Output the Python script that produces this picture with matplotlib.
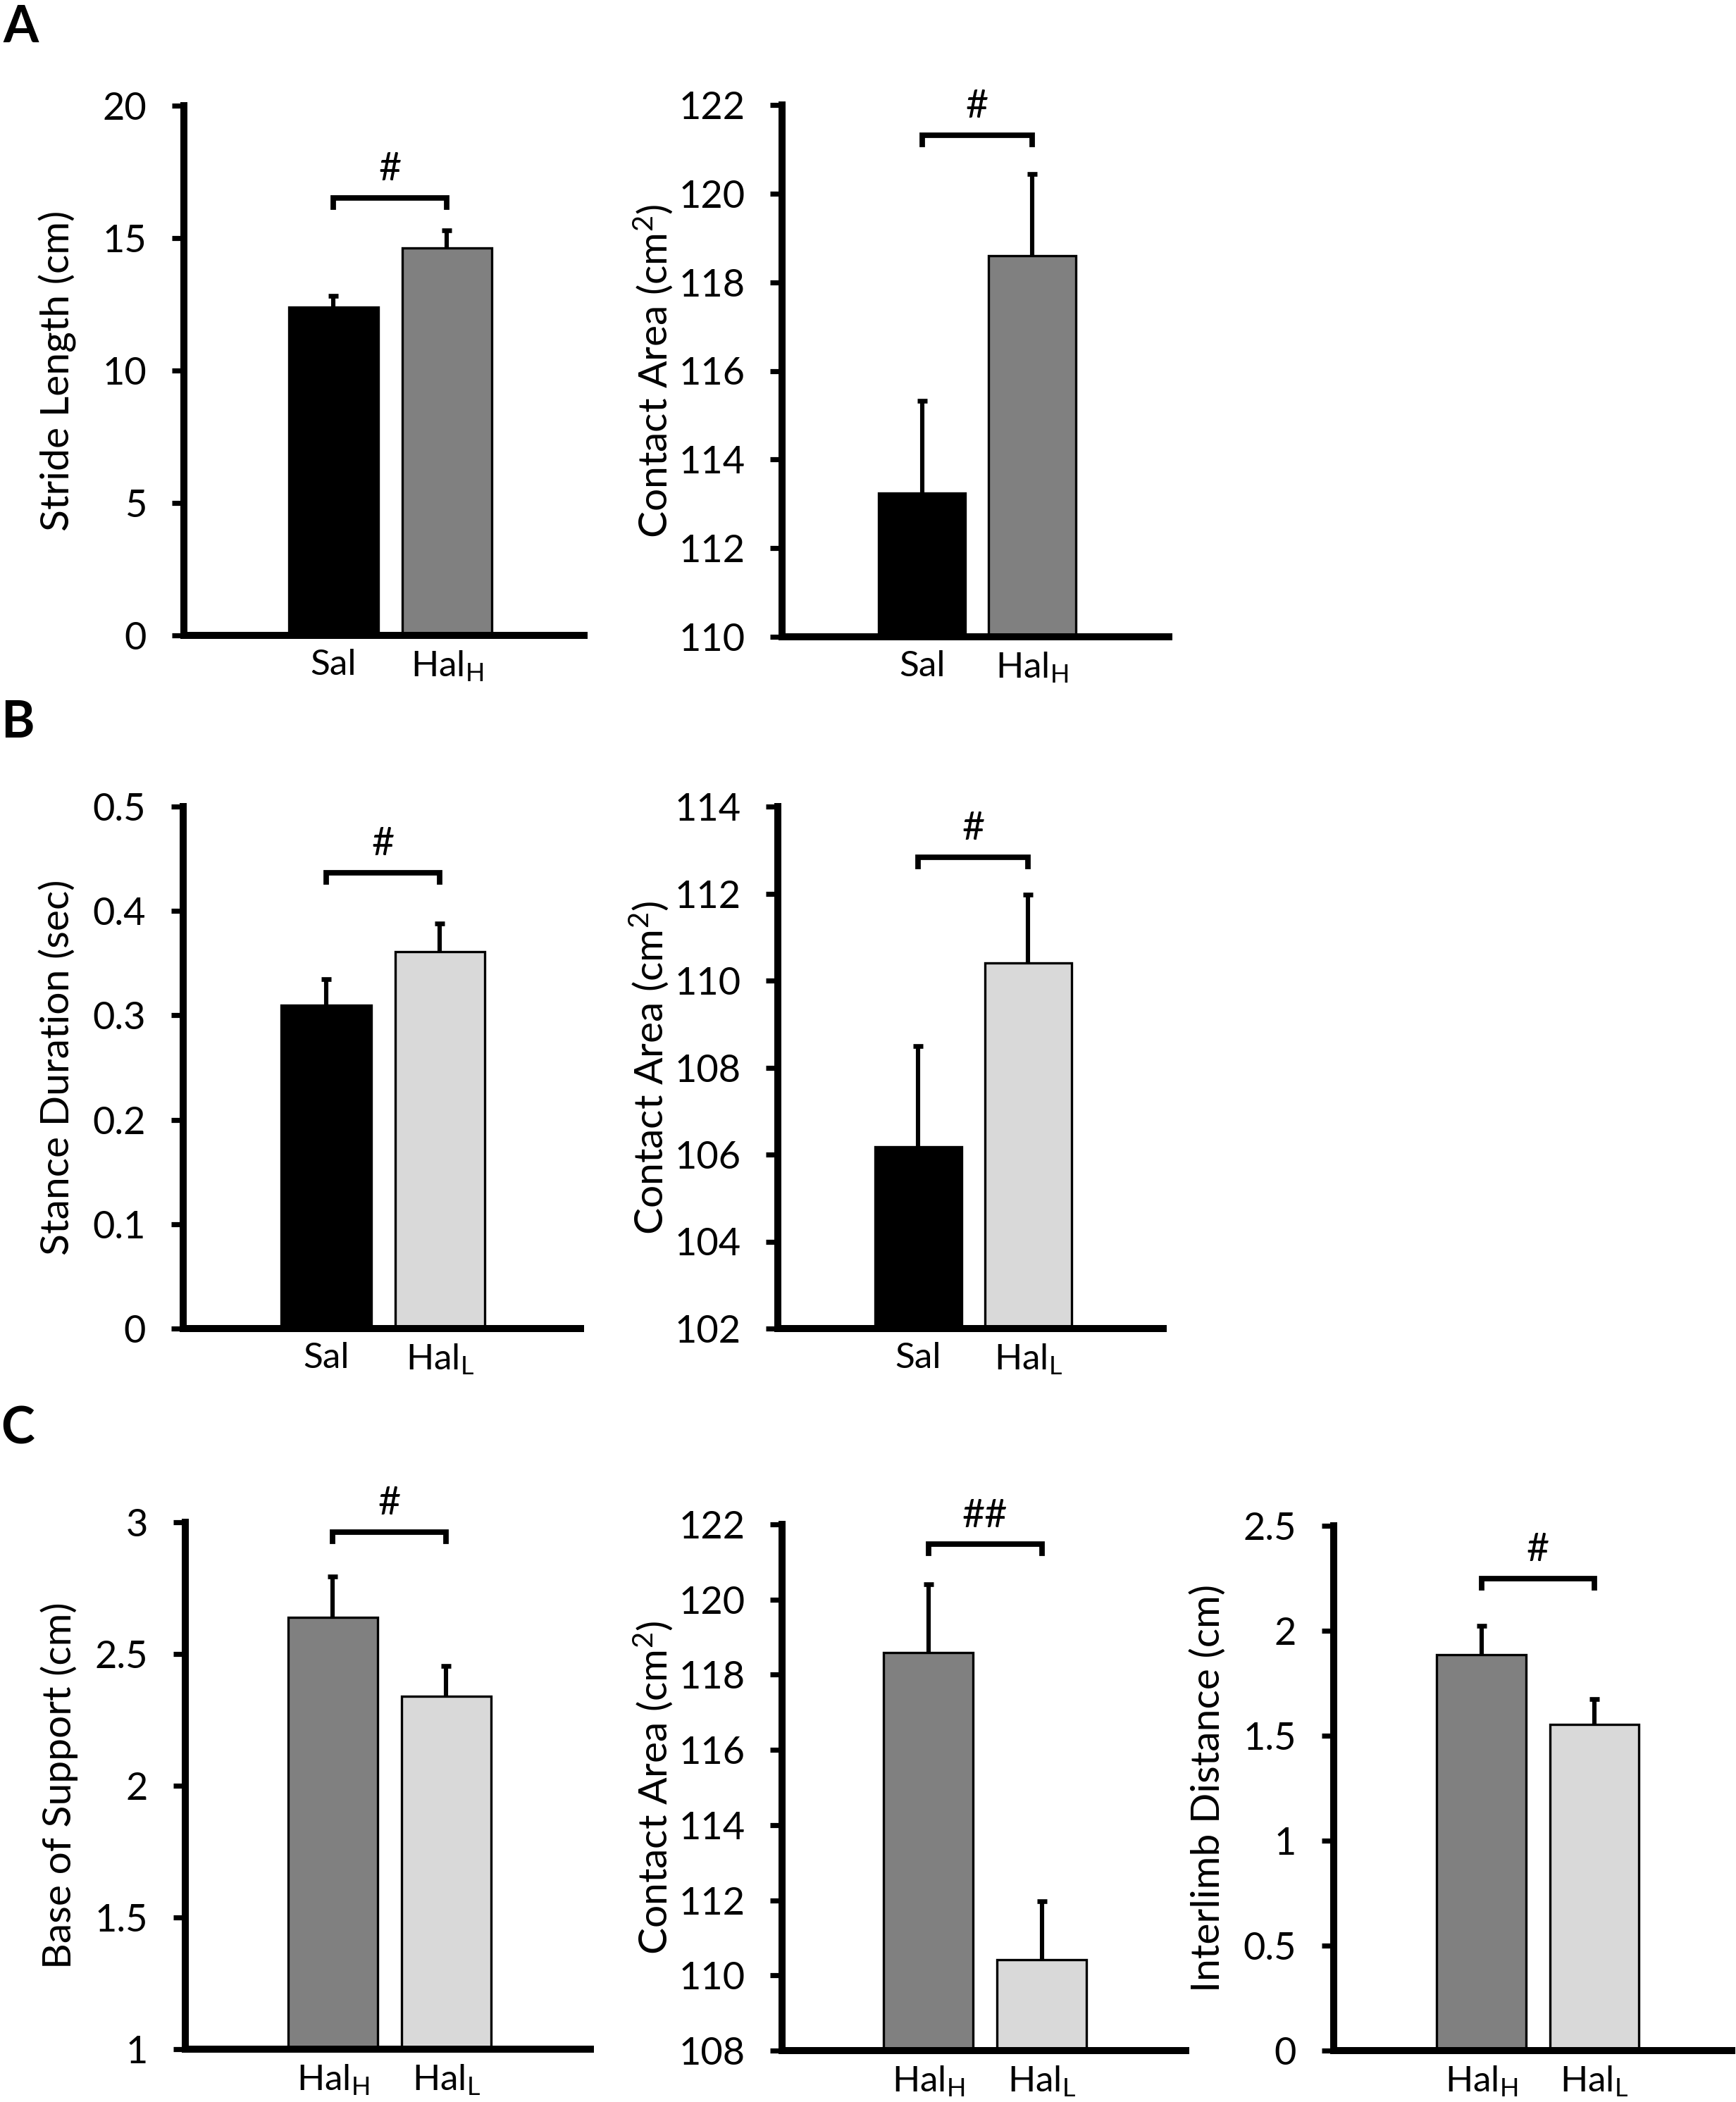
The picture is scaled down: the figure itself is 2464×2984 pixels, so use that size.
import matplotlib
matplotlib.use("Agg")
import matplotlib.pyplot as plt
from matplotlib.ticker import MultipleLocator, FuncFormatter
import numpy as np

plt.rcParams['font.family'] = ['Lato', 'DejaVu Sans']
plt.rcParams['mathtext.fontset'] = 'custom'
plt.rcParams['mathtext.rm'] = 'Lato'
plt.rcParams['mathtext.it'] = 'Lato'
plt.rcParams['mathtext.default'] = 'regular'

# ---------------- data ----------------
# Panel A
a1_groups = ["Sal", "Hal$_H$"]
a1_means = [12.39, 14.63]
a1_sem = [0.43, 0.66]
a1_sig = "#"
a1_bracket = 16.52

a2_groups = ["Sal", "Hal$_H$"]
a2_means = [113.24, 118.60]
a2_sem = [2.09, 1.85]
a2_sig = "#"
a2_bracket = 121.32

# Panel B
b1_groups = ["Sal", "Hal$_L$"]
b1_means = [0.310, 0.361]
b1_sem = [0.025, 0.027]
b1_sig = "#"
b1_bracket = 0.4366

b2_groups = ["Sal", "Hal$_L$"]
b2_means = [106.18, 110.40]
b2_sem = [2.31, 1.57]
b2_sig = "#"
b2_bracket = 112.83

# Panel C
c1_groups = ["Hal$_H$", "Hal$_L$"]
c1_means = [2.64, 2.34]
c1_sem = [0.154, 0.115]
c1_sig = "#"
c1_bracket = 2.963

c2_groups = ["Hal$_H$", "Hal$_L$"]
c2_means = [118.58, 110.42]
c2_sem = [1.82, 1.55]
c2_sig = "##"
c2_bracket = 121.47

c3_groups = ["Hal$_H$", "Hal$_L$"]
c3_means = [1.886, 1.554]
c3_sem = [0.137, 0.120]
c3_sig = "#"
c3_bracket = 2.248

group_colors = {"Sal": "#000000", "Hal$_H$": "#808080", "Hal$_L$": "#d9d9d9"}

# ---------------- layout ----------------
W, H = 2464, 2984
DPI = 200
fig = plt.figure(figsize=(W / DPI, H / DPI), dpi=DPI)


def rect(l, r, t, b):
    return [l / W, 1 - b / H, (r - l) / W, (b - t) / H]


panels = [
    # (groups, means, sem, sig, bracket, ylabel, ylim, ystep, rect px, xlim)
    (a1_groups, a1_means, a1_sem, a1_sig, a1_bracket, "Stride Length (cm)", (0, 20), 5,
     (261, 829, 150, 902), (-0.32, 3.21)),
    (a2_groups, a2_means, a2_sem, a2_sig, a2_bracket, "Contact Area (cm$^2$)", (110, 122), 2,
     (1110, 1659, 149, 904), (-0.27, 3.24)),
    (b1_groups, b1_means, b1_sem, b1_sig, b1_bracket, "Stance Duration (sec)", (0, 0.5), 0.1,
     (260, 824, 1145, 1886), (-0.26, 3.24)),
    (b2_groups, b2_means, b2_sem, b2_sig, b2_bracket, "Contact Area (cm$^2$)", (102, 114), 2,
     (1104, 1651, 1145, 1886), (-0.28, 3.23)),
    (c1_groups, c1_means, c1_sem, c1_sig, c1_bracket, "Base of Support (cm)", (1, 3), 0.5,
     (263, 838, 2161, 2909), (-0.30, 3.27)),
    (c2_groups, c2_means, c2_sem, c2_sig, c2_bracket, "Contact Area (cm$^2$)", (108, 122), 2,
     (1110, 1683, 2164, 2911), (-0.29, 3.27)),
    (c3_groups, c3_means, c3_sem, c3_sig, c3_bracket, "Interlimb Distance (cm)", (0, 2.5), 0.5,
     (1893, 2458, 2166, 2911), (-0.31, 3.22)),
]

fmt = FuncFormatter(lambda v, p: ("%g" % round(v, 6)))

for groups, means, sem, sig, bh, ylabel, ylim, ystep, (l, r, t, b), xlim in panels:
    ax = fig.add_axes(rect(l, r, t, b))
    x = np.arange(1, len(groups) + 1)
    means = np.asarray(means)
    sem = np.asarray(sem)
    ymin, ymax = ylim
    colors = [group_colors[g] for g in groups]
    ax.bar(x, means - ymin, bottom=ymin, width=0.79, color=colors,
           edgecolor="black", linewidth=1.2, zorder=2)
    ax.vlines(x, means, means + sem, color="black", lw=2.2, zorder=3)
    ax.plot(x, means + sem, ls="none", marker="_", ms=4.8, mew=2.4,
            color="black", zorder=3)
    # significance bracket
    drop = 0.017 * (ymax - ymin)
    ax.plot([x[0], x[0], x[1], x[1]], [bh - drop, bh, bh, bh - drop],
            color="black", lw=2.8, solid_joinstyle="miter", zorder=3,
            clip_on=False)
    ax.annotate(sig, xy=((x[0] + x[1]) / 2, bh), xytext=(0, 14.5),
                textcoords="offset points", ha="center", va="center",
                fontsize=20)

    ax.set_xlim(*xlim)
    ax.set_ylim(ymin, ymax)
    ax.yaxis.set_major_locator(MultipleLocator(ystep))
    ax.yaxis.set_major_formatter(fmt)
    ax.set_xticks(x)
    ax.set_xticklabels(groups)
    for s in ("top", "right"):
        ax.spines[s].set_visible(False)
    for s in ("left", "bottom"):
        ax.spines[s].set_linewidth(3.6)
        ax.spines[s].set_capstyle("projecting")
    ax.tick_params(axis="y", direction="out", length=6, width=2.6,
                   labelsize=19.5, pad=13)
    ax.tick_params(axis="x", length=0, labelsize=18.5, pad=7)
    ax.set_ylabel(ylabel, fontsize=20.5)
    axw = r - l
    ax.yaxis.set_label_coords(-152 / axw, 0.5)

fig.text(4 / W, 1 - 6 / H, "A", fontsize=26, fontweight="bold", va="top", ha="left")
fig.text(1 / W, 1 - 993 / H, "B", fontsize=26, fontweight="bold", va="top", ha="left")
fig.text(1 / W, 1 - 1995 / H, "C", fontsize=26, fontweight="bold", va="top", ha="left")

fig.savefig("out.png", dpi=DPI)
